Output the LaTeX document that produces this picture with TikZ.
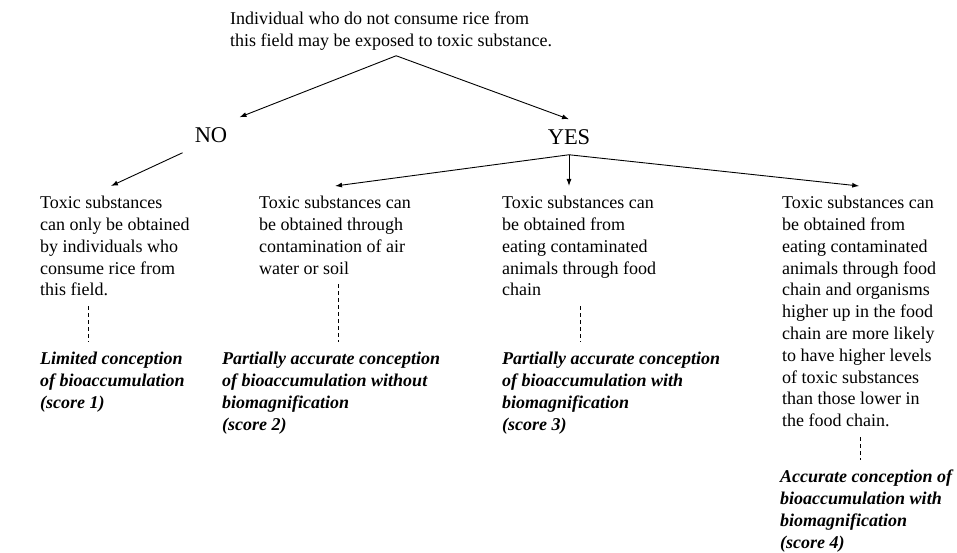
\documentclass[tikz,border=0pt]{standalone}
\usepackage{fontspec}
\setmainfont{Liberation Serif}
\usetikzlibrary{arrows.meta}

\begin{document}
\begin{tikzpicture}[
x=1pt, y=-1pt,
txt/.style={align=left,
inner xsep=0pt,
inner ysep=10pt,
anchor=north west,
font=\fontsize{18}{21.8}\selectfont},
score/.style={txt, font=\fontsize{18}{21.8}\selectfont\bfseries\itshape},
answer/.style={inner xsep=12pt, inner ysep=10pt, font=\fontsize{22.5}{26}\selectfont},
arrow/.style={-{Latex[length=7pt, width=5pt]}, line width=0.9pt},
dashline/.style={line width=0.6pt, dash pattern=on 4pt off 3pt}
]
\useasboundingbox (0,0) rectangle (957,553);

\node[txt, inner ysep=5pt] (question) at (230,7) {Individual who do not consume rice from\\this field may be exposed to toxic substance.};
\node[answer] (no) at (211,135) {NO};
\node[answer] (yes) at (569,137) {YES};

\node[txt] (t1) at (40,186) {Toxic substances\\can only be obtained\\by individuals who\\consume rice from\\this field.};
\node[txt] (t2) at (259,186) {Toxic substances can\\be obtained through\\contamination of air\\water or soil};
\node[txt] (t3) at (502,186) {Toxic substances can\\be obtained from\\eating contaminated\\animals through food\\chain};
\node[txt] (t4) at (782,186) {Toxic substances can\\be obtained from\\eating contaminated\\animals through food\\chain and organisms\\higher up in the food\\chain are more likely\\to have higher levels\\of toxic substances\\than those lower in\\the food chain.};

\node[score] (s1) at (40,342) {Limited conception\\of bioaccumulation\\(score 1)};
\node[score] (s2) at (222,342) {Partially accurate conception\\of bioaccumulation without\\biomagnification\\(score 2)};
\node[score] (s3) at (502,342) {Partially accurate conception\\of bioaccumulation with\\biomagnification\\(score 3)};
\node[score] (s4) at (780,460) {Accurate conception of\\bioaccumulation with\\biomagnification\\(score 4)};

\draw[arrow] ([xshift=5pt]question.south) -- (no.north east);
\draw[arrow] ([xshift=5pt]question.south) -- (yes.north);
\draw[arrow] (no.south west) -- ([xshift=-4pt]t1.north);
\draw[arrow] (yes.south) -- (t2.north);
\draw[arrow] (yes.south) -- (yes.south |- t3.north);
\draw[arrow] (yes.south) -- (t4.north);

\draw[dashline] ([xshift=48pt]t1.south west) coordinate (d1) -- (d1 |- s1.north);
\draw[dashline] ([xshift=79pt]t2.south west) coordinate (d2) -- (d2 |- s2.north);
\draw[dashline] ([xshift=78pt]t3.south west) coordinate (d3) -- (d3 |- s3.north);
\draw[dashline] ([xshift=78pt]t4.south west) coordinate (d4) -- (d4 |- s4.north);

\end{tikzpicture}
\end{document}
